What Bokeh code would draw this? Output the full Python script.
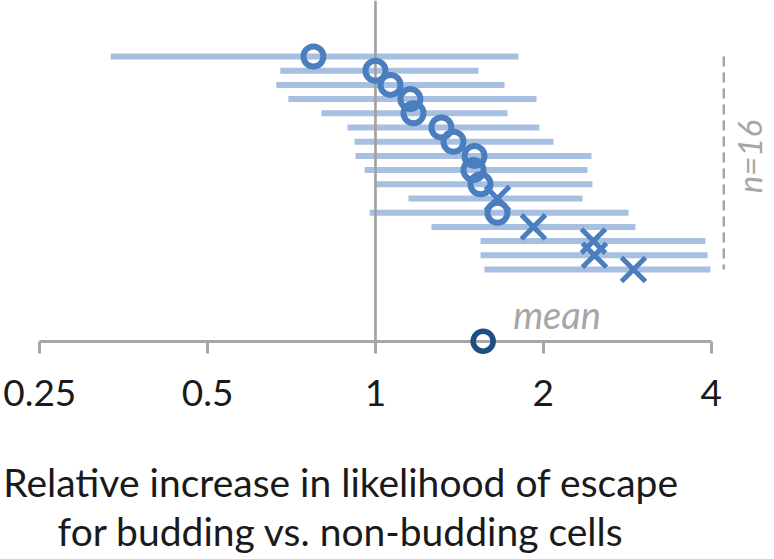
import math
from bokeh.plotting import figure
from bokeh.models import Range1d, FixedTicker, Label, LogAxis
from bokeh.embed import file_html
from bokeh.resources import INLINE

# ---- data ----
rows = list(range(1, 17))
estimate = [0.774, 1.00, 1.064, 1.155, 1.170, 1.313, 1.380, 1.505,
            1.499, 1.543, 1.655, 1.655, 1.920, 2.460, 2.470, 2.902]
ci_low = [0.335, 0.675, 0.664, 0.698, 0.800, 0.891, 0.917, 0.921,
          0.956, 0.998, 1.146, 0.976, 1.260, 1.543, 1.543, 1.568]
ci_high = [1.805, 1.530, 1.704, 1.944, 1.725, 1.968, 2.086, 2.440,
           2.400, 2.450, 2.351, 2.843, 2.926, 3.907, 3.940, 3.988]
significant = [False] * 10 + [True, False] + [True] * 4
mean_value = 1.56
n_label = "n=16"
tick_values = [0.25, 0.5, 1, 2, 4]
tick_labels = ["0.25", "0.5", "1", "2", "4"]
title_lines = ["Relative increase in likelihood of escape",
               "for budding vs. non-budding cells"]

# ---- layout constants ----
axis_row = 21.05
bracket_x = 4.213
top_row = -2.944

BAR = "#a7bfe1"
MARK = "#4a7ebf"
MEAN = "#1f4e85"
GREY = "#a6a6a6"

p = figure(width=774, height=559, output_backend="svg", toolbar_location=None,
           x_axis_type="log",
           x_range=Range1d(0.21257, 5.1953), y_range=Range1d(36.4225, top_row),
           x_axis_location=None, y_axis_location=None,
           min_border=0, outline_line_color=None)
p.grid.visible = False
p.background_fill_color = "white"
p.border_fill_color = "white"

# confidence bars
p.segment(x0=ci_low, y0=rows, x1=ci_high, y1=rows, line_width=6,
          line_color=BAR, line_cap="butt")

# reference line at 1
p.segment(x0=[1], y0=[top_row], x1=[1], y1=[axis_row], line_width=2.6,
          line_color="#a0a0a0")

# markers
c_x = [e for e, s in zip(estimate, significant) if not s]
c_y = [r for r, s in zip(rows, significant) if not s]
x_x = [e for e, s in zip(estimate, significant) if s]
x_y = [r for r, s in zip(rows, significant) if s]
p.scatter(x_x, x_y, marker="x", size=34, line_width=5, line_color=MARK)
p.scatter(c_x, c_y, marker="circle", size=20, line_width=6,
          line_color=MARK, fill_color=None)

# bracket for n
p.segment(x0=[bracket_x], y0=[rows[0]], x1=[bracket_x], y1=[rows[-1]],
          line_width=2.5, line_color=GREY, line_dash="10 6")
p.add_layout(Label(x=bracket_x, y=(rows[0] + rows[-1]) / 2 - 0.45, x_offset=25,
                   text=n_label, angle=math.pi / 2, angle_units="rad",
                   text_align="center", text_baseline="middle",
                   text_font="Lato", text_font_style="italic",
                   text_font_size="33px", text_color=GREY))

# x axis
ax = LogAxis(fixed_location=axis_row, ticker=FixedTicker(ticks=tick_values),
             bounds=(tick_values[0], tick_values[-1]))
ax.major_label_overrides = {v: t for v, t in zip(tick_values, tick_labels)}
ax.axis_line_color = GREY
ax.axis_line_width = 3
ax.major_tick_line_color = GREY
ax.major_tick_line_width = 3
ax.major_tick_out = 12
ax.major_tick_in = 0
ax.minor_tick_out = 0
ax.minor_tick_in = 0
ax.major_label_standoff = 27
ax.major_label_text_font = "Lato"
ax.major_label_text_font_size = "37px"
ax.major_label_text_color = "#1a1a1a"
p.add_layout(ax, "below")

# mean marker
mr = p.scatter([mean_value], [axis_row], marker="circle", size=20, line_width=5.5,
               line_color=MEAN, fill_color=None)
mr.level = "overlay"
p.add_layout(Label(x=mean_value, y=axis_row, x_offset=30, y_offset=27,
                   text="mean", text_align="left", text_baseline="alphabetic",
                   text_font="Lato", text_font_style="italic",
                   text_font_size="38px", text_color=GREY))

# axis title
p.add_layout(Label(x=0.8672, y=30.98, text=title_lines[0], text_align="center",
                   text_baseline="alphabetic", text_font="Lato",
                   text_font_size="39px", text_color="#1a1a1a"))
p.add_layout(Label(x=0.8672, y=34.45, text=title_lines[1], text_align="center",
                   text_baseline="alphabetic", text_font="Lato",
                   text_font_size="39px", text_color="#1a1a1a"))

open("out.html", "w").write(file_html(p, INLINE))
